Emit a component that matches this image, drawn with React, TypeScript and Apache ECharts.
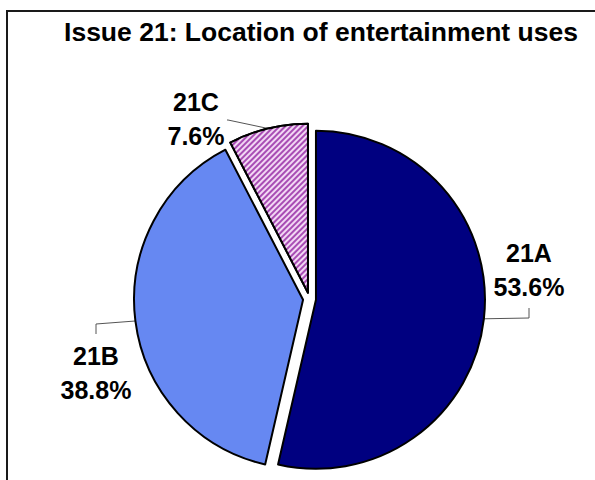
import React, { useEffect, useRef } from 'react';
import * as echarts from 'echarts';

const TITLE = 'Issue 21: Location of entertainment uses';
const categories = ['21A', '21B', '21C'];
const shares = [53.6, 38.8, 7.6];
const colors = ['#000080', '#6688f2', '#a84cb4'];

// label layout: text centre and leader-line bend / end points
const labelPos = [
  { x: 529, y: 270, bend: [529, 318], end: [529, 308] },
  { x: 96, y: 373, bend: [96, 324], end: [96, 334] },
  { x: 196, y: 119, bend: [228, 120], end: [227, 120] },
];

const CX = 309.5;
const CY = 299;
const R = 169;
const EXPLODE = 6.5;
const FONT = '"Liberation Sans", Arial, sans-serif';

export default function App() {
  const ref = useRef<HTMLDivElement>(null);
  useEffect(() => {
    const chart = echarts.init(ref.current!, null, { renderer: 'svg' });
    const total = shares.reduce((a, b) => a + b, 0);
    let acc = 0;
    const series = shares.map((v, i) => {
      const mid = ((acc + v / 2) / total) * 2 * Math.PI;
      acc += v;
      const cx = CX + EXPLODE * Math.sin(mid);
      const cy = CY - EXPLODE * Math.cos(mid);
      return {
        type: 'pie',
        silent: true,
        startAngle: 90,
        clockwise: true,
        center: [cx, cy],
        radius: R,
        avoidLabelOverlap: false,
        label: {
          show: true,
          position: 'outside',
          formatter: (p: any) => `${p.name}\n${Number(p.value).toFixed(1)}%`,
          fontFamily: FONT,
          fontWeight: 'bold',
          fontSize: 25,
          lineHeight: 34,
          color: '#000',
          align: 'center',
        },
        labelLine: {
          show: true,
          length: 10,
          length2: 10,
          lineStyle: { color: '#555', width: 1 },
        },
        labelLayout: (p: any) => {
          if (p.dataIndex !== i) return {};
          const L = labelPos[i];
          const p0 = p.labelLinePoints ? p.labelLinePoints[0] : L.bend;
          return {
            x: L.x,
            y: L.y,
            align: 'center',
            verticalAlign: 'middle',
            labelLinePoints: [p0, L.bend, L.end],
          };
        },
        data: categories.map((name, j) => {
          if (j !== i) {
            return {
              name,
              value: shares[j],
              itemStyle: { color: 'rgba(0,0,0,0)', borderWidth: 0 },
              label: { show: false },
              labelLine: { show: false },
            };
          }
          const itemStyle: any = { color: colors[j], borderColor: '#000', borderWidth: 2 };
          if (j === 2) {
            itemStyle.decal = {
              symbol: 'rect',
              symbolSize: 1,
              color: 'rgba(255,240,255,0.85)',
              dashArrayX: [1, 0],
              dashArrayY: [1.2, 1.6],
              rotation: -Math.PI / 4,
            };
          }
          return { name, value: shares[j], itemStyle };
        }),
      };
    });

    chart.setOption({
      animation: false,
      backgroundColor: '#fff',
      graphic: [
        {
          type: 'rect',
          shape: { x: 7, y: 11, width: 700, height: 700 },
          style: { fill: 'none', stroke: '#1a1a1a', lineWidth: 2 },
          silent: true,
        },
        {
          type: 'text',
          x: 321,
          y: 32,
          style: {
            text: TITLE,
            font: `bold 26.5px ${FONT}`,
            fill: '#000',
            textAlign: 'center',
            textVerticalAlign: 'middle',
          },
          silent: true,
        },
      ],
      series,
    });
    return () => chart.dispose();
  }, []);
  return (
    <div
      ref={ref}
      style={{ position: 'fixed', left: 0, top: 0, width: 595, height: 480 }}
    />
  );
}
